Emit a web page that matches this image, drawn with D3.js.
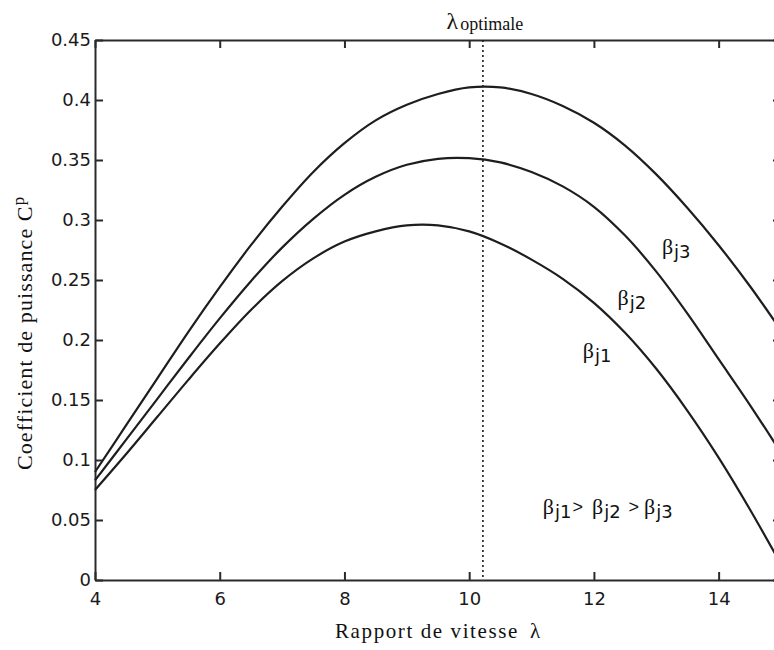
<!DOCTYPE html>
<html>
<head>
<meta charset="utf-8">
<script src="https://cdn.jsdelivr.net/npm/d3@7"></script>
<style>
  html, body { margin: 0; padding: 0; background: #fff; }
  svg { display: block; }
</style>
</head>
<body>
<svg id="chart" width="774" height="650"></svg>
<script>
// Tip-speed ratio samples and power coefficient for three pitch angles
const lambda = [4, 4.5, 5, 5.5, 6, 6.5, 7, 7.5, 8, 8.5, 9, 9.5, 10, 10.5, 11, 11.5, 12, 12.5, 13, 13.5, 14, 14.5, 15];
const cpBeta1 = [0.075, 0.105, 0.136, 0.167, 0.197, 0.225, 0.249, 0.268, 0.282, 0.2905, 0.2955, 0.2955, 0.2905, 0.2805, 0.267, 0.251, 0.231, 0.206, 0.176, 0.141, 0.102, 0.059, 0.013];
const cpBeta2 = [0.083, 0.117, 0.151, 0.185, 0.218, 0.249, 0.277, 0.301, 0.321, 0.336, 0.346, 0.351, 0.3515, 0.348, 0.340, 0.328, 0.311, 0.287, 0.257, 0.222, 0.184, 0.146, 0.106];
const cpBeta3 = [0.090, 0.129, 0.168, 0.207, 0.244, 0.279, 0.311, 0.340, 0.364, 0.383, 0.396, 0.405, 0.4105, 0.4105, 0.405, 0.395, 0.381, 0.362, 0.338, 0.310, 0.279, 0.245, 0.208];
const lambdaOpt = 10.22;

const xTicks = [4, 6, 8, 10, 12, 14];
const yTicks = [0, 0.05, 0.1, 0.15, 0.2, 0.25, 0.3, 0.35, 0.4, 0.45];
const xDomain = [4, 15];
const yDomain = [0, 0.45];

// Curve labels: subscript text and anchor point (lambda, Cp)
const curveLabels = [
  { sub: "j3", at: [13.09, 0.2717] },
  { sub: "j2", at: [12.38, 0.229] },
  { sub: "j1", at: [11.82, 0.185] }
];
const orderLabelAt = [11.18, 0.055];

const margin = { left: 95, top: 40, right: 781, bottom: 580 };
const svg = d3.select("#chart");
svg.append("rect").attr("width", 774).attr("height", 650).attr("fill", "#ffffff");

const x = d3.scaleLinear().domain(xDomain).range([margin.left, margin.right]);
const y = d3.scaleLinear().domain(yDomain).range([margin.bottom, margin.top]);

const axisColor = "#2a2a2a";
const tickFont = "'DejaVu Sans', sans-serif";
const serif = "'Liberation Serif', 'Times New Roman', serif";

// Axes with inward ticks on all four sides
const tickLen = 8;
const bottomAxis = d3.axisBottom(x).tickValues(xTicks).tickSizeInner(-tickLen).tickSizeOuter(0).tickPadding(12).tickFormat(d3.format("d"));
const topAxis = d3.axisTop(x).tickValues(xTicks).tickSizeInner(-tickLen).tickSizeOuter(0).tickFormat("");
const leftAxis = d3.axisLeft(y).tickValues(yTicks).tickSizeInner(-tickLen).tickSizeOuter(0).tickPadding(4).tickFormat(d => d === 0 ? "0" : String(+d.toFixed(2)));
const rightAxis = d3.axisRight(y).tickValues(yTicks).tickSizeInner(-tickLen).tickSizeOuter(0).tickFormat("");

function styleAxis(g) {
  g.select(".domain").attr("stroke", axisColor).attr("stroke-width", 2);
  g.selectAll(".tick line").attr("stroke", axisColor).attr("stroke-width", 2);
  g.selectAll(".tick text").attr("fill", "#1a1a1a").attr("font-family", tickFont).attr("font-size", 18);
}

svg.append("g").attr("transform", `translate(0,${margin.bottom})`).call(bottomAxis).call(styleAxis);
svg.append("g").attr("transform", `translate(0,${margin.top})`).call(topAxis).call(styleAxis);
svg.append("g").attr("transform", `translate(${margin.left},0)`).call(leftAxis).call(styleAxis);
svg.append("g").attr("transform", `translate(${margin.right},0)`).call(rightAxis).call(styleAxis);

// Optimal tip-speed ratio marker
svg.append("line")
  .attr("x1", x(lambdaOpt)).attr("x2", x(lambdaOpt))
  .attr("y1", y(yDomain[1])).attr("y2", y(yDomain[0]))
  .attr("stroke", "#1a1a1a").attr("stroke-width", 1.6)
  .attr("stroke-dasharray", "2,3");

const title = svg.append("text")
  .attr("x", x(lambdaOpt) + 2).attr("y", 29)
  .attr("text-anchor", "middle")
  .attr("font-family", serif).attr("fill", "#111");
title.append("tspan").attr("font-size", 24).text("λ");
title.append("tspan").attr("font-size", 18).attr("dx", 2).attr("dy", 1).text("optimale");

// Cp curves
const line = d3.line()
  .x((d, i) => x(lambda[i]))
  .y(d => y(d))
  .curve(d3.curveCatmullRom.alpha(0.5));

[cpBeta1, cpBeta2, cpBeta3].forEach(series => {
  svg.append("path")
    .datum(series)
    .attr("d", line)
    .attr("fill", "none")
    .attr("stroke", "#1e1e1e")
    .attr("stroke-width", 2.2);
});

// Curve labels
function betaLabel(sel, sub, dx, dy) {
  sel.append("tspan").attr("font-family", serif).attr("font-size", 22).attr("dx", dx || 0).attr("dy", dy || 0).text("β");
  sel.append("tspan").attr("font-family", tickFont).attr("font-size", 18).attr("dx", 1).attr("dy", 4).text(sub);
}

curveLabels.forEach(l => {
  const t = svg.append("text")
    .attr("x", x(l.at[0])).attr("y", y(l.at[1]))
    .attr("fill", "#111");
  betaLabel(t, l.sub);
});

// Ordering of the pitch angles
const order = svg.append("text")
  .attr("x", x(orderLabelAt[0])).attr("y", y(orderLabelAt[1]))
  .attr("fill", "#111");
function gt(sel, dx) {
  sel.append("tspan").attr("font-family", "'Liberation Sans', sans-serif").attr("font-size", 18).attr("dx", dx).attr("dy", -5).text(">");
}
betaLabel(order, "j1");
gt(order, 1);
betaLabel(order, "j2", 9, 1);
gt(order, 8);
betaLabel(order, "j3", 5, 1);

// Axis titles
const xTitle = svg.append("text")
  .attr("x", 335).attr("y", 638)
  .attr("font-family", serif).attr("font-size", 21).attr("fill", "#111");
xTitle.append("tspan").attr("letter-spacing", 1.6).text("Rapport de vitesse");
xTitle.append("tspan").attr("x", 530).text("λ");

const yTitle = svg.append("text")
  .attr("transform", "translate(32,470) rotate(-90)")
  .attr("text-anchor", "start")
  .attr("font-family", serif).attr("font-size", 22).attr("fill", "#111");
yTitle.append("tspan").attr("letter-spacing", 1.1).text("Coefficient de puissance C");
yTitle.append("tspan").attr("font-size", 17).attr("dy", -8).attr("dx", 0).text("p");
</script>
</body>
</html>
